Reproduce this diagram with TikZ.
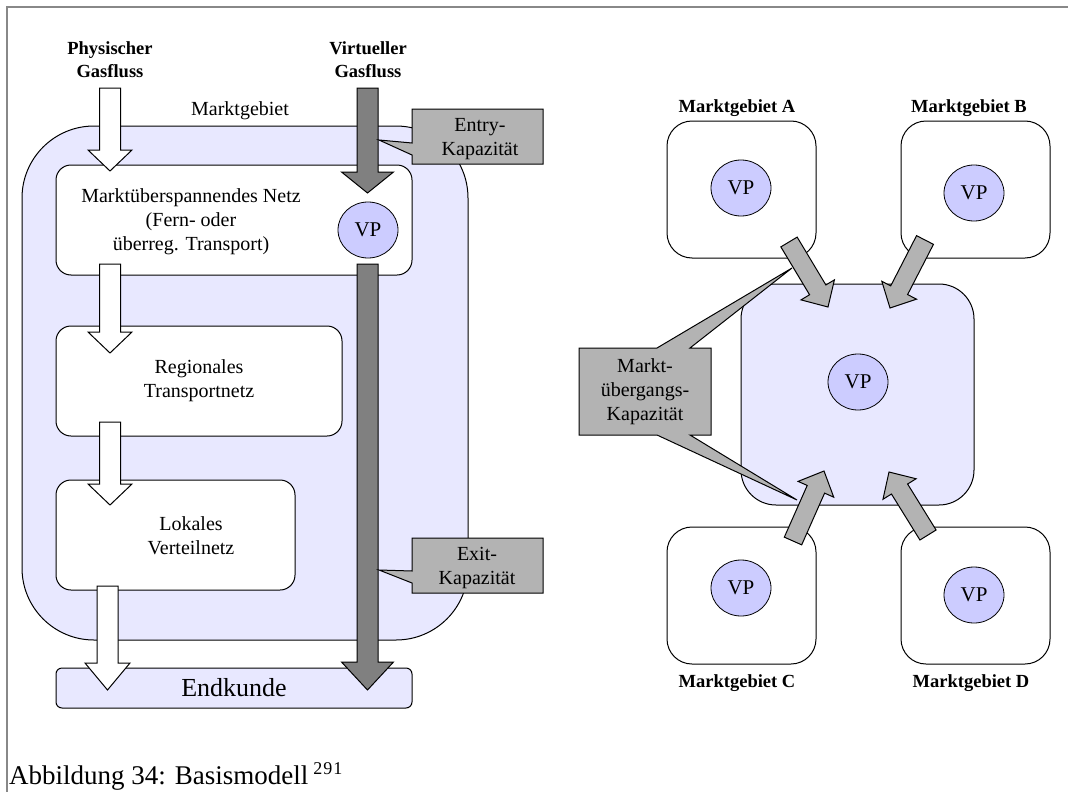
\documentclass[tikz,border=0pt]{standalone}
\usepackage{fontspec}
\setmainfont{Liberation Serif}
\usetikzlibrary{positioning,calc,shapes.geometric}
\definecolor{regionfill}{HTML}{E8E8FF}
\definecolor{vpfill}{HTML}{CCCCFF}
\definecolor{darkflow}{HTML}{808080}
\definecolor{lightflow}{HTML}{B3B3B3}
\definecolor{framegray}{HTML}{888888}
\tikzset{
txt/.style={align=center, inner sep=0pt, font=\fontsize{20}{24}\selectfont},
boldtxt/.style={align=center, inner sep=0pt, font=\fontsize{18.5}{23}\selectfont\bfseries},
region/.style={draw, fill=regionfill, line width=1pt},
netbox/.style={txt, draw, fill=white, rounded corners=15pt, line width=1pt, minimum height=110pt},
mgbox/.style={draw, fill=white, rounded corners=25pt, line width=1pt, minimum width=149pt, minimum height=137pt},
vp/.style={ellipse, draw, fill=vpfill, line width=0.8pt, minimum width=60pt, minimum height=56pt, inner sep=0pt, font=\fontsize{21}{24}\selectfont},
calloutbox/.style={inner sep=0pt, outer sep=0pt},
callout/.style={draw, fill=lightflow, line width=1pt},
physflow/.style={draw, fill=white, line width=1pt},
virtflow/.style={draw, fill=darkflow, line width=1pt},
transflow/.style={draw, fill=lightflow, line width=1pt}
}
% style, tail, tip, half shaft, half head, head length
\newcommand{\blockarrow}[6]{%
\coordinate (ba-base) at ($(#3)!#6pt!(#2)$);
\draw[#1] ($(#2)!#4pt!90:(#3)$) -- ($(ba-base)!#4pt!90:(#3)$) -- ($(ba-base)!#5pt!90:(#3)$) -- (#3)
 -- ($(ba-base)!#5pt!-90:(#3)$) -- ($(ba-base)!#4pt!-90:(#3)$) -- ($(#2)!#4pt!-90:(#3)$) -- cycle;}
\begin{document}
\begin{tikzpicture}[x=1pt, y=-1pt]
\useasboundingbox (0,0) rectangle (1068,792);
\draw[framegray, line width=2pt] (7,792) -- (7,7) -- (1068,7);
% Basismodell
\node[region, rounded corners=72pt, minimum width=446pt, minimum height=514pt] (mg) at (245,383) {};
\node[netbox, minimum width=356pt] (fernnetz) at (234,220) {};
\node[txt] (fernnetztext) at (191,222) {Marktüberspannendes Netz\\(Fern- oder\\überreg. Transport)};
\node[netbox, minimum width=286pt] (regional) at (199,381) {Regionales\\Transportnetz};
\node[netbox, minimum width=239pt] (lokal) at (175.5,535) {};
\node[txt] (lokaltext) at (191,536) {Lokales\\Verteilnetz};
\node[region, rounded corners=6pt, minimum width=356pt, minimum height=40pt, font=\fontsize{26}{30}\selectfont] (endkunde) at (234,688) {Endkunde};
\node[vp] (vpmg) at (368,230) {VP};
\node[boldtxt] (physlabel) at (110,60) {Physischer\\Gasfluss};
\node[boldtxt] (virtlabel) at (368,60) {Virtueller\\Gasfluss};
\node[txt, anchor=base] (mglabel) at (240,115) {Marktgebiet};
\coordinate (p1a) at (110,88);
\coordinate (p1b) at (110,171);
\coordinate (p2a) at (110,264);
\coordinate (p2b) at (110,353);
\coordinate (p3a) at (110,422);
\coordinate (p3b) at (110,505);
\coordinate (p4a) at (107.5,586);
\coordinate (p4b) at (107.5,690);
\coordinate (v1a) at (367.5,88);
\coordinate (v1b) at (367.5,193);
\coordinate (v2a) at (367.5,264);
\coordinate (v2b) at (367.5,690);
\foreach \n in {1,2,3}
  \blockarrow{physflow}{p\n a}{p\n b}{10.5}{22}{21};
\blockarrow{physflow}{p4a}{p4b}{10.5}{22.5}{27}
\blockarrow{virtflow}{v1a}{v1b}{10.5}{26}{21}
\blockarrow{virtflow}{v2a}{v2b}{10.5}{26}{28}
\node[calloutbox, minimum width=131pt, minimum height=55pt] (entry) at (477.5,136.5) {};
\coordinate (entrytip) at (379,140);
\draw[callout] (entry.north west) -- (entry.north east) -- (entry.south east) -- (entry.south west)
 -- ($(entry.south west)+(0,-9)$) -- (entrytip) -- ($(entry.north west)+(0,34)$) -- cycle;
\node[txt] (entrytext) at (480,139.5) {Entry-\\Kapazität};
\node[calloutbox, minimum width=131pt, minimum height=55pt] (exit) at (477.5,565.5) {};
\coordinate (exittip) at (379,570);
\draw[callout] (exit.north west) -- (exit.north east) -- (exit.south east) -- (exit.south west)
 -- ($(exit.south west)+(0,-10)$) -- (exittip) -- ($(exit.north west)+(0,33)$) -- cycle;
\node[txt] (exittext) at (477,568) {Exit-\\Kapazität};
% Marktgebiete
\node[mgbox] (mgA) at (741.5,189.5) {};
\node[mgbox, right=84pt of mgA] (mgB) {};
\node[mgbox, below=268pt of mgA] (mgC) {};
\node[mgbox, right=84pt of mgC] (mgD) {};
\node[region, rounded corners=35pt, minimum width=233pt, minimum height=221pt] (mgZ) at (857.5,394.5) {};
\node[vp] (vpA) at (741,188) {VP};
\node[vp] (vpB) at (974,193) {VP};
\node[vp] (vpC) at (741,588) {VP};
\node[vp] (vpD) at (974,595) {VP};
\node[vp] (vpZ) at (858,382) {VP};
\node[boldtxt, anchor=base] (labA) at (737,112) {Marktgebiet A};
\node[boldtxt, anchor=base] (labB) at (969,112) {Marktgebiet B};
\node[boldtxt, anchor=base] (labC) at (737,687) {Marktgebiet C};
\node[boldtxt, anchor=base] (labD) at (971,687) {Marktgebiet D};
\coordinate (tA) at (789,242);
\coordinate (hA) at (828,307);
\coordinate (tB) at (925,240);
\coordinate (hB) at (890,308);
\coordinate (tC) at (793,541);
\coordinate (hC) at (824,471);
\coordinate (tD) at (928,535);
\coordinate (hD) at (889,472);
\foreach \m in {A,B,C,D}
  \blockarrow{transflow}{t\m}{h\m}{9.5}{19.5}{20};
\node[calloutbox, minimum width=132pt, minimum height=87pt] (muek) at (645,391.5) {};
\coordinate (muekup) at (792,268);
\coordinate (muekdown) at (797,500);
\draw[callout] (muek.north west) -- ++(78,0) -- (muekup) -- ($(muek.north west)+(111,0)$) -- (muek.north east)
 -- (muek.south east) -- ($(muek.south west)+(111,0)$) -- (muekdown) -- ($(muek.south west)+(78,0)$) -- (muek.south west) -- cycle;
\node[txt] (muektext) at (645,392) {Markt-\\übergangs-\\Kapazität};
\node[anchor=base west, inner sep=0pt, font=\fontsize{27}{32}\selectfont] (caption) at (9,784)
 {Abbildung 34: Basismodell\kern5pt\raisebox{10pt}{\fontsize{18}{18}\selectfont 2\kern1pt9\kern1pt1}};
\end{tikzpicture}
\end{document}
